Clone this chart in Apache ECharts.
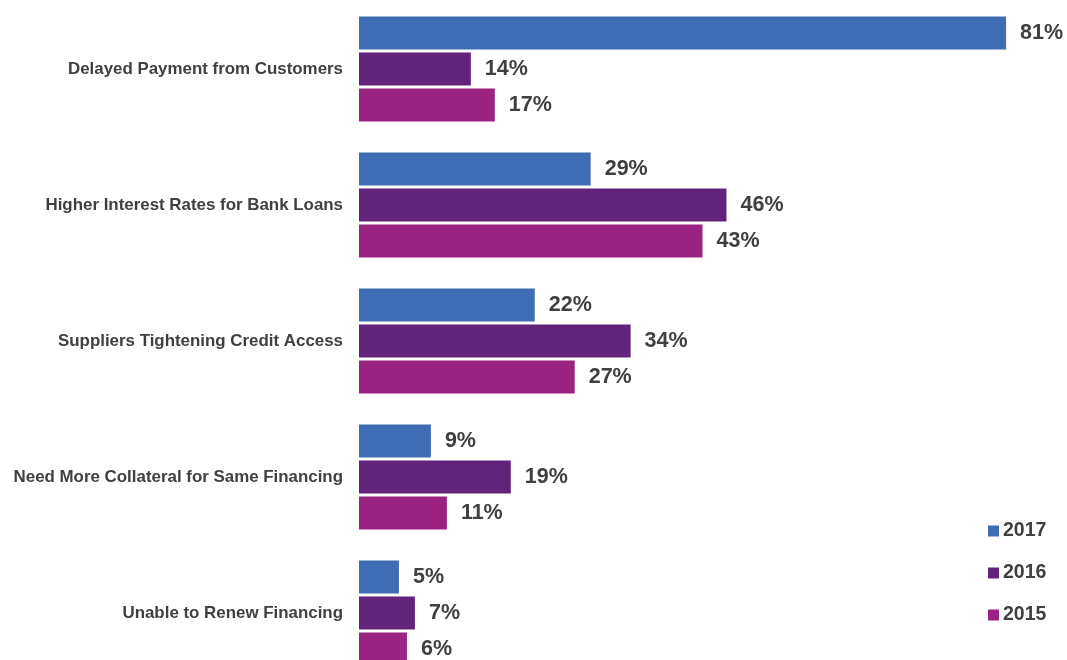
<!DOCTYPE html>
<html><head><meta charset="utf-8">
<script src="https://cdn.jsdelivr.net/npm/echarts@6/dist/echarts.min.js"></script>
<style>html,body{margin:0;padding:0;background:#fff;overflow:hidden}#c{width:1067px;height:682px}</style>
</head><body><div id="c"></div>
<script>
const categories = ["Delayed Payment from Customers","Higher Interest Rates for Bank Loans","Suppliers Tightening Credit Access","Need More Collateral for Same Financing","Unable to Renew Financing"];
const seriesNames = ["2017","2016","2015"];
const values2017 = [81,29,22,9,5];
const values2016 = [14,46,34,19,7];
const values2015 = [17,43,27,11,6];
const colors = ["#3E6DB4","#62237A","#9B2483"];
const chart = echarts.init(document.getElementById('c'));
const mk = (name, data, color) => ({
  name, type:'bar', data, barWidth:33, barGap:'9%',
  itemStyle:{color},
  label:{show:true, position:'right', distance:14, formatter:'{c}%',
    fontFamily:'Liberation Sans', fontWeight:'bold', fontSize:21.5, color:'#404040'}
});
chart.setOption({
  animation:false,
  grid:{left:359, top:1, width:703, height:680, containLabel:false},
  xAxis:{type:'value', min:0, max:88, show:false},
  yAxis:{type:'category', data:categories, inverse:true,
    axisLine:{show:false}, axisTick:{show:false},
    axisLabel:{margin:16, fontFamily:'Liberation Sans', fontWeight:'bold', fontSize:16.9, color:'#404040'}},
  legend:{orient:'vertical', left:983, top:516, itemGap:22, itemWidth:11, itemHeight:11,
    icon:'rect', data:seriesNames,
    textStyle:{fontFamily:'Liberation Sans', fontWeight:'bold', fontSize:19.5, color:'#404040', padding:[0,0,0,-1]}},
  series:[mk(seriesNames[0], values2017, colors[0]), mk(seriesNames[1], values2016, colors[1]), mk(seriesNames[2], values2015, colors[2])]
});
</script></body></html>
